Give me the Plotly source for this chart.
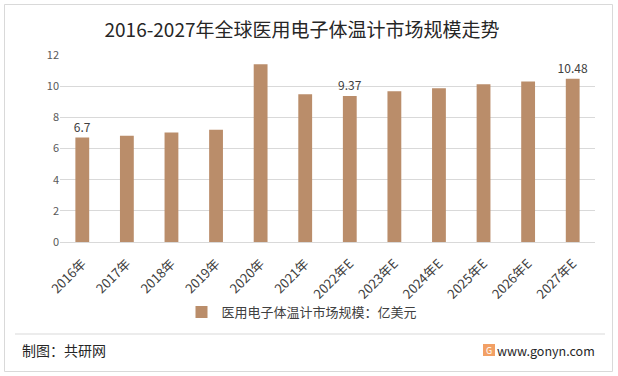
import plotly.graph_objects as go

categories = ["2016年", "2017年", "2018年", "2019年", "2020年", "2021年",
              "2022年E", "2023年E", "2024年E", "2025年E", "2026年E", "2027年E"]
values = [6.7, 6.82, 7.02, 7.2, 11.4, 9.48, 9.37, 9.68, 9.87, 10.12, 10.3, 10.48]
label_texts = ["6.7", "", "", "", "", "", "9.37", "", "", "", "", "10.48"]
series_name = "医用电子体温计市场规模：亿美元"
title_text = "2016-2027年全球医用电子体温计市场规模走势"

W, H = 618, 376
L, R, T, B = 60, 23, 55, 134
pw, ph = W - L - R, H - T - B


def px(x):
    return (x - L) / pw


def py(y):
    return (H - B - y) / ph


FONT = "Noto Sans CJK SC"

fig = go.Figure()
fig.add_trace(go.Bar(
    x=categories, y=values, name=series_name,
    marker=dict(color="#BA8D6A", line=dict(width=0)),
    text=label_texts, textposition="outside", cliponaxis=False,
    constraintext="none",
    textfont=dict(family=FONT, size=12, color="#404040"),
))

fig.update_layout(
    width=W, height=H,
    margin=dict(l=L, r=R, t=T, b=B, autoexpand=False),
    paper_bgcolor="white", plot_bgcolor="white",
    bargap=0.69,
    showlegend=True,
    title=dict(text=title_text, x=px(302), xref="paper", xanchor="center",
               y=1 - 30 / H, yanchor="middle",
               font=dict(family=FONT, size=19, color="#262626")),
    legend=dict(orientation="h", x=px(302), xanchor="center", y=py(312), yanchor="middle",
                font=dict(family=FONT, size=13, color="#404040"),
                bgcolor="rgba(0,0,0,0)"),
    xaxis=dict(tickangle=-45, showgrid=False, showline=True, linecolor="#d9d9d9",
               automargin=False, ticklabelstandoff=8,
               ticks="", tickfont=dict(family=FONT, size=13, color="#404040")),
    yaxis=dict(range=[0, 12], dtick=2, showgrid=True, gridcolor="#d9d9d9",
               automargin=False,
               zeroline=False, showline=False, ticks="",
               tickfont=dict(family=FONT, size=11, color="#595959")),
)

fig.add_shape(type="rect", xref="paper", yref="paper",
              x0=px(4.5), x1=px(612.5), y0=py(371.5), y1=py(4.5),
              line=dict(color="#d9d9d9", width=1), fillcolor="rgba(0,0,0,0)", layer="below")
fig.add_shape(type="line", xref="paper", yref="paper",
              x0=px(15), x1=px(605), y0=py(334), y1=py(334),
              line=dict(color="#d9d9d9", width=1))
fig.add_shape(type="rect", xref="paper", yref="paper",
              x0=px(483), x1=px(495), y0=py(356), y1=py(344),
              line=dict(width=0), fillcolor="#F2A065")

fig.add_annotation(text="制图：共研网", xref="paper", yref="paper",
                   x=px(20), y=py(350), xanchor="left", yanchor="middle", showarrow=False,
                   font=dict(family=FONT, size=14, color="#262626"))
fig.add_annotation(text="G", xref="paper", yref="paper",
                   x=px(489), y=py(350), xanchor="center", yanchor="middle", showarrow=False,
                   font=dict(family=FONT, size=9, color="white"))
fig.add_annotation(text="www.gonyn.com", xref="paper", yref="paper",
                   x=px(597), y=py(350), xanchor="right", yanchor="middle", showarrow=False,
                   font=dict(family=FONT, size=12.5, color="#262626"))

fig.write_html("out.html", config={"displayModeBar": False},
               post_script="document.body.style.margin='0';document.body.style.padding='0';")
